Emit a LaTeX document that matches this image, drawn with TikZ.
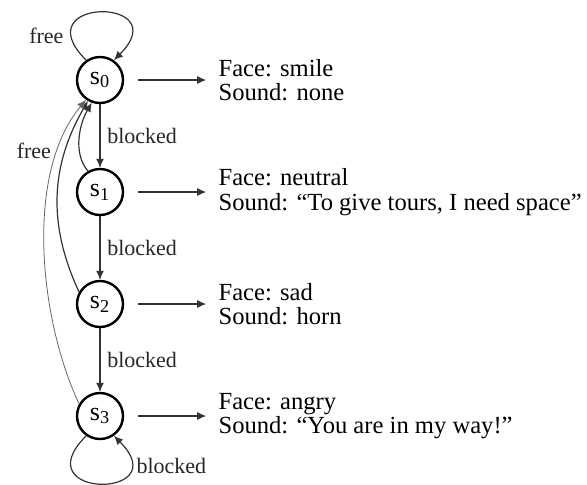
\documentclass[tikz,border=0pt]{standalone}
\usepackage{fontspec}
\setmainfont{Liberation Serif}
\usetikzlibrary{arrows.meta, positioning}

\begin{document}
\begin{tikzpicture}[
    x=0.5pt, y=0.5pt,
    state/.style={circle, draw=black, line width=1.2pt, minimum size=23pt,
                  inner sep=0pt, font=\fontsize{13}{13}\selectfont},
    face/.style={align=left, inner sep=1pt, font=\fontsize{12.3}{12.3}\selectfont},
    lbl/.style={font=\fontsize{11}{11}\selectfont, text=black!85},
    arrow/.style={-{Latex[length=4.5pt, width=4pt]}, line width=0.6pt, black!80},
    back/.style={arrow, line width=0.4pt, black!60}
]
\useasboundingbox (0,0) rectangle (587,-484);

% States
\node[state] (s0) at (100,-80) {s\textsubscript{0}};
\node[state, on grid, below=56pt of s0] (s1) {s\textsubscript{1}};
\node[state, on grid, below=56pt of s1] (s2) {s\textsubscript{2}};
\node[state, on grid, below=56pt of s2] (s3) {s\textsubscript{3}};

% Face and sound of each state
\node[face, right=46pt of s0] (f0) {Face: smile\\Sound: none};
\node[face, right=46pt of s1] (f1) {Face: neutral\\Sound: “To give tours, I need space”};
\node[face, right=46pt of s2] (f2) {Face: sad\\Sound: horn};
\node[face, right=46pt of s3] (f3) {Face: angry\\Sound: “You are in my way!”};

\draw[arrow, shorten <=7pt, shorten >=5pt] (s0) -- (f0);
\draw[arrow, shorten <=7pt, shorten >=5pt] (s1) -- (f1);
\draw[arrow, shorten <=7pt, shorten >=5pt] (s2) -- (f2);
\draw[arrow, shorten <=7pt, shorten >=5pt] (s3) -- (f3);

% Blocked: one step down
\draw[arrow] (s0) -- node[lbl, right] {blocked} (s1);
\draw[arrow] (s1) -- node[lbl, right] {blocked} (s2);
\draw[arrow] (s2) -- node[lbl, right] {blocked} (s3);

% Self loops
\draw[arrow] (s0.125) to[out=135, in=45, distance=45pt]
      node[lbl, left, pos=0.15] {free} (s0.55);
\draw[arrow] (s3.235) to[out=225, in=-45, distance=45pt]
      node[lbl, right, pos=0.8] {blocked} (s3.305);

% Back to s0
\draw[arrow] (s1.120) to[out=130, in=240, looseness=0.9] (s0.250);
\draw[arrow] (s2.150) to[out=115, in=240, looseness=1.0] (s0.240);
\draw[back] (s3.150) to[out=115, in=230, looseness=0.8]
      node[lbl, left, pos=0.8] {free} (s0.235);

\end{tikzpicture}
\end{document}
